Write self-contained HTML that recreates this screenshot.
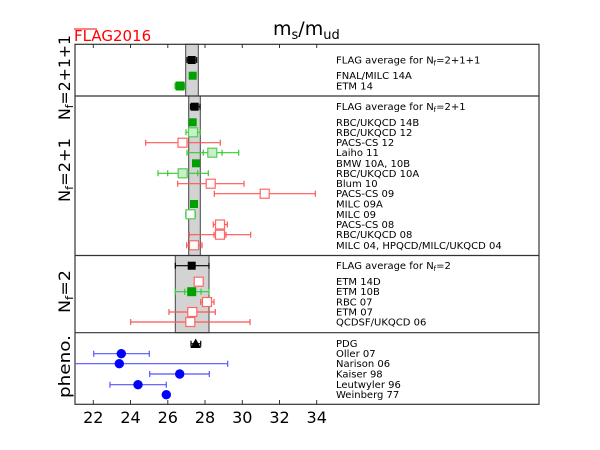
<!DOCTYPE html>
<html><head><meta charset="utf-8"><style>body{margin:0;background:#fff}svg{display:block}text{font-family:"DejaVu Sans","Liberation Sans",sans-serif}</style></head>
<body>
<svg width="600" height="450" xmlns="http://www.w3.org/2000/svg">
<rect width="600" height="450" fill="#fff"/>
<rect x="185.7" y="44.3" width="12.6" height="51.7" fill="#d3d3d3" stroke="#444" stroke-width="1"/>
<rect x="188.7" y="96" width="11.6" height="159.5" fill="#d3d3d3" stroke="#444" stroke-width="1"/>
<rect x="175.3" y="255.5" width="33.7" height="77.2" fill="#d3d3d3" stroke="#444" stroke-width="1"/>
<g fill="none" stroke="#333" stroke-width="1.2">
<rect x="75" y="44.3" width="464" height="360"/>
<line x1="75" y1="96" x2="539" y2="96"/>
<line x1="75" y1="255.5" x2="539" y2="255.5"/>
<line x1="75" y1="332.7" x2="539" y2="332.7"/>
</g>
<g stroke="#333" stroke-width="1">
<line x1="93.3" y1="404.3" x2="93.3" y2="400"/><line x1="130.5" y1="404.3" x2="130.5" y2="400"/><line x1="167.8" y1="404.3" x2="167.8" y2="400"/><line x1="205" y1="404.3" x2="205" y2="400"/><line x1="242.3" y1="404.3" x2="242.3" y2="400"/><line x1="279.5" y1="404.3" x2="279.5" y2="400"/><line x1="316.7" y1="404.3" x2="316.7" y2="400"/>
<line x1="93.3" y1="44.3" x2="93.3" y2="48"/><line x1="130.5" y1="44.3" x2="130.5" y2="48"/><line x1="167.8" y1="44.3" x2="167.8" y2="48"/><line x1="205" y1="44.3" x2="205" y2="48"/><line x1="242.3" y1="44.3" x2="242.3" y2="48"/><line x1="279.5" y1="44.3" x2="279.5" y2="48"/><line x1="316.7" y1="44.3" x2="316.7" y2="48"/>
</g>
<g font-size="16" fill="#000" text-anchor="middle">
<text x="93.3" y="423">22</text><text x="130.5" y="423">24</text><text x="167.8" y="423">26</text><text x="205" y="423">28</text><text x="242.3" y="423">30</text><text x="279.5" y="423">32</text><text x="316.7" y="423">34</text>
</g>
<text x="273" y="35" font-size="19">m<tspan font-size="13" dy="4">s</tspan><tspan dy="-4">/m</tspan><tspan font-size="13" dy="4">ud</tspan></text>
<text x="74" y="41" font-size="15" fill="#f00">FLAG2016</text>
<line x1="74" y1="29" x2="97" y2="29" stroke="#f00" stroke-width="1"/>
<g font-size="16" fill="#000">
<text transform="translate(70,120) rotate(-90)" textLength="85" lengthAdjust="spacingAndGlyphs">N<tspan font-size="11" dy="3">f</tspan><tspan dy="-3">=2+1+1</tspan></text>
<text transform="translate(70,202) rotate(-90)" textLength="64" lengthAdjust="spacingAndGlyphs">N<tspan font-size="11" dy="3">f</tspan><tspan dy="-3">=2+1</tspan></text>
<text transform="translate(70,313) rotate(-90)" textLength="43" lengthAdjust="spacingAndGlyphs">N<tspan font-size="11" dy="3">f</tspan><tspan dy="-3">=2</tspan></text>
<text transform="translate(70,398) rotate(-90)" textLength="63" lengthAdjust="spacingAndGlyphs">pheno.</text>
</g>
<g stroke-width="1.2" fill="none">
<g stroke="#000"><path d="M187 60H196.7M187 57V63M196.7 57V63"/><path d="M190.5 106.7H200M190.5 103.7V109.7M200 103.7V109.7"/><path d="M175.3 265.7H209M175.3 262.7V268.7M209 262.7V268.7"/><path d="M191 343.7H200.7M191 340.7V346.7M200.7 340.7V346.7"/></g>
<g stroke="#3c3"><path d="M175 86H185M175 83V89M185 83V89"/><path d="M186 132.3H200.3M186 129.3V135.3M200.3 129.3V135.3"/><path d="M187 152.7H238.7M187 149.7V155.7M238.7 149.7V155.7M203.3 149.7V155.7M222 149.7V155.7"/><path d="M158 173.3H208.3M158 170.3V176.3M208.3 170.3V176.3M167.7 170.3V176.3M197.7 170.3V176.3"/><path d="M185.7 214.3H195.3M185.7 211.3V217.3M195.3 211.3V217.3"/><path d="M175.3 291.7H209M175.3 288.7V294.7M209 288.7V294.7M184.7 288.7V294.7M201 288.7V294.7"/></g>
<g stroke="#f55"><path d="M145.7 142.7H220.3M145.7 139.7V145.7M220.3 139.7V145.7"/><path d="M177.7 183.7H244M177.7 180.7V186.7M244 180.7V186.7"/><path d="M214.3 193.7H315.3M214.3 190.7V196.7M315.3 190.7V196.7"/><path d="M213.3 224.5H227.3M213.3 221.5V227.5M227.3 221.5V227.5"/><path d="M189.3 234.7H250.7M189.3 231.7V237.7M250.7 231.7V237.7M214 231.7V237.7M226 231.7V237.7"/><path d="M186.7 245.3H202M186.7 242.3V248.3M202 242.3V248.3"/><path d="M200.7 302H214M200.7 299V305M214 299V305"/><path d="M169 312H215.3M169 309V315M215.3 309V315"/><path d="M130.7 322H250M130.7 319V325M250 319V325"/></g>
<g stroke="#55f"><path d="M93.7 353.7H149.3M93.7 350.7V356.7M149.3 350.7V356.7"/><path d="M75 363.7H227.7M227.7 360.7V366.7"/><path d="M149.7 374H209.3M149.7 371V377M209.3 371V377"/><path d="M110 384.7H166.3M110 381.7V387.7M166.3 381.7V387.7"/></g>
</g>
<g stroke-width="1.2">
<rect x="187.7" y="56" width="8" height="8" fill="#000"/>
<rect x="190.7" y="102.7" width="8" height="8" fill="#000"/>
<rect x="187.7" y="261.7" width="8" height="8" fill="#000"/>
<polygon points="195.7,338.5 201,348 190.4,348" fill="#000"/>
<g fill="#00a000"><rect x="188.7" y="71.7" width="8" height="8"/><rect x="175.5" y="81.5" width="9" height="9"/><rect x="188.7" y="118.3" width="8" height="8"/><rect x="192" y="159.3" width="8" height="8"/><rect x="190" y="200" width="8" height="8"/><rect x="187.2" y="287.2" width="9" height="9"/></g>
<g fill="#c8f0c8" stroke="#5c5"><rect x="188.5" y="127.8" width="9" height="9"/><rect x="207.8" y="148.2" width="9" height="9"/><rect x="178.2" y="168.8" width="9" height="9"/><rect x="186" y="209.8" width="9" height="9" fill="#fff"/></g>
<g fill="#fff" stroke="#f66"><rect x="178" y="138.2" width="9" height="9"/><rect x="206.2" y="179.2" width="9" height="9"/><rect x="260.2" y="189.2" width="9" height="9"/><rect x="215.5" y="220" width="9" height="9"/><rect x="215.5" y="230.2" width="9" height="9"/><rect x="189.5" y="240.8" width="9" height="9"/><rect x="194.2" y="277.2" width="9" height="9"/><rect x="202.5" y="297.5" width="9" height="9"/><rect x="187.8" y="307.5" width="9" height="9"/><rect x="185.8" y="317.5" width="9" height="9"/></g>
<g fill="#00f"><circle cx="121.3" cy="353.7" r="4.7"/><circle cx="119.3" cy="363.7" r="4.7"/><circle cx="179.7" cy="374" r="4.7"/><circle cx="138" cy="384.7" r="4.7"/><circle cx="166.3" cy="394.7" r="4.7"/></g>
</g>
<g font-size="10" fill="#000">
<text x="336" y="63.5">FLAG average for N<tspan font-size="7" dy="2">f</tspan><tspan dy="-2">=2+1+1</tspan></text>
<text x="336" y="79">FNAL/MILC 14A</text><text x="336" y="89.5">ETM 14</text>
<text x="336" y="110">FLAG average for N<tspan font-size="7" dy="2">f</tspan><tspan dy="-2">=2+1</tspan></text>
<text x="336" y="125.8">RBC/UKQCD 14B</text><text x="336" y="135.8">RBC/UKQCD 12</text><text x="336" y="146.2">PACS-CS 12</text><text x="336" y="156.2">Laiho 11</text><text x="336" y="166.8">BMW 10A, 10B</text><text x="336" y="176.8">RBC/UKQCD 10A</text><text x="336" y="187.2">Blum 10</text><text x="336" y="197.2">PACS-CS 09</text><text x="336" y="207.5">MILC 09A</text><text x="336" y="217.8">MILC 09</text><text x="336" y="228">PACS-CS 08</text><text x="336" y="238.2">RBC/UKQCD 08</text><text x="336" y="248.8">MILC 04, HPQCD/MILC/UKQCD 04</text>
<text x="336" y="269">FLAG average for N<tspan font-size="7" dy="2">f</tspan><tspan dy="-2">=2</tspan></text>
<text x="336" y="285.2">ETM 14D</text><text x="336" y="295.2">ETM 10B</text><text x="336" y="305.5">RBC 07</text><text x="336" y="315.5">ETM 07</text><text x="336" y="325.5">QCDSF/UKQCD 06</text>
<text x="336" y="347.2">PDG</text><text x="336" y="357.2">Oller 07</text><text x="336" y="367.2">Narison 06</text><text x="336" y="377.5">Kaiser 98</text><text x="336" y="388.2">Leutwyler 96</text><text x="336" y="398.2">Weinberg 77</text>
</g>
</svg>
</body></html>
